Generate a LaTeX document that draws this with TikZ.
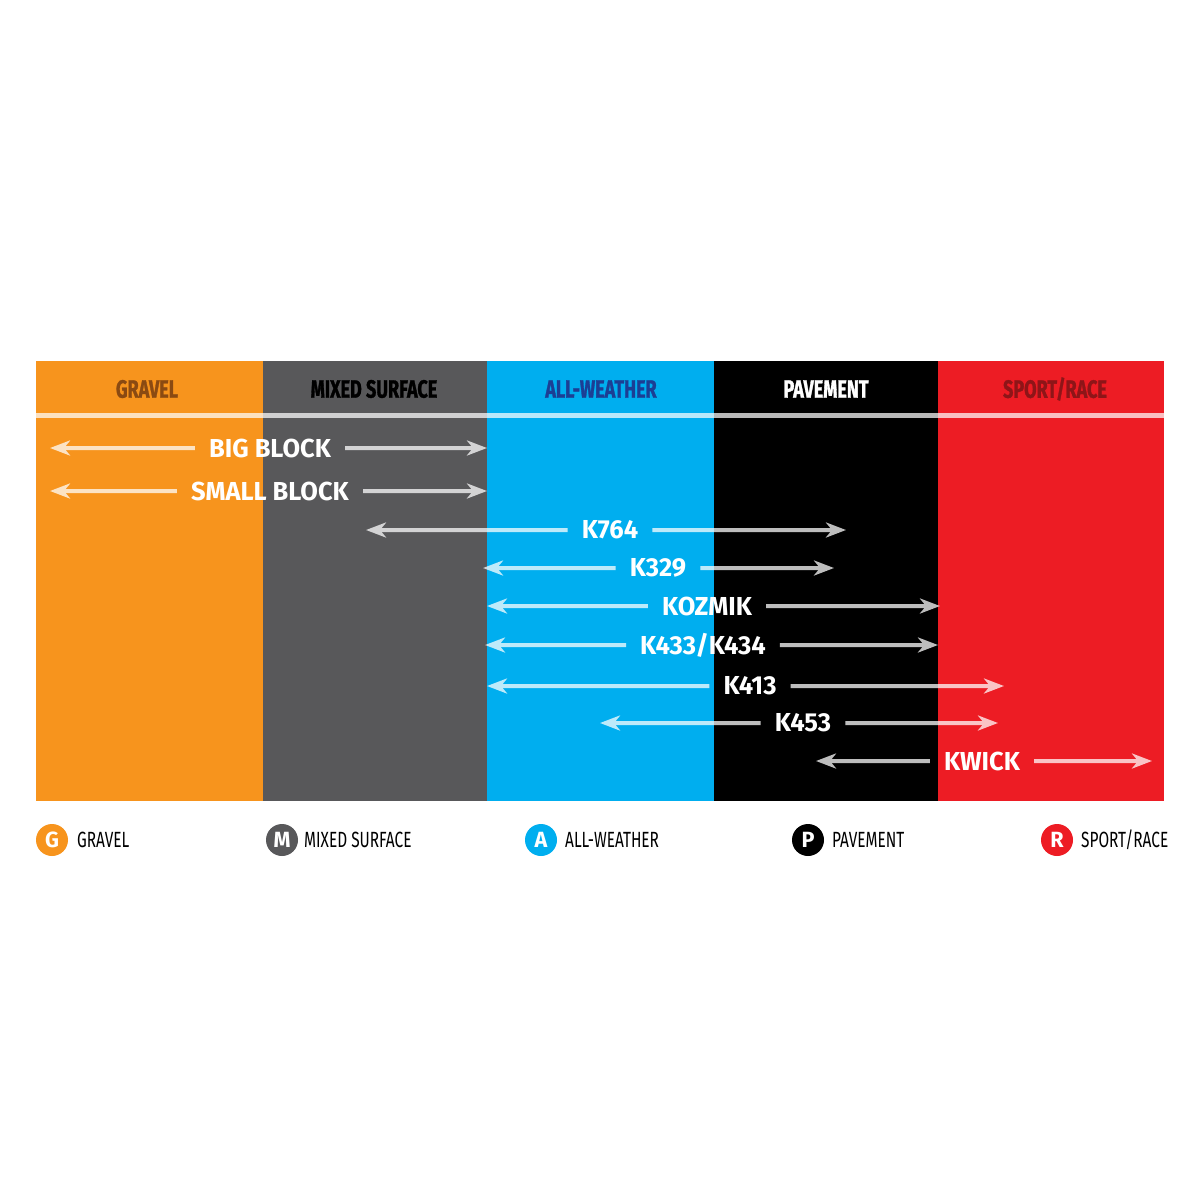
\documentclass[tikz,border=0pt]{standalone}
\usepackage{fontspec}
\setmainfont{Fira Sans}
\newfontfamily\labfont{Fira Sans}[FakeStretch=0.98]
\newfontfamily\condfont{Fira Sans}[FakeStretch=0.72, BoldFeatures={FakeBold=1.2}]
\newfontfamily\legfont{Fira Sans}[FakeStretch=0.70]
\usetikzlibrary{arrows.meta}
\definecolor{cgravel}{HTML}{F7941D}
\definecolor{cmixed}{HTML}{58585A}
\definecolor{call}{HTML}{00AEEF}
\definecolor{cpave}{HTML}{000000}
\definecolor{csport}{HTML}{ED1C24}
\definecolor{hgravel}{HTML}{8A4A12}
\definecolor{hall}{HTML}{1C3E94}
\definecolor{hsport}{HTML}{8E1518}
\begin{document}
\begin{tikzpicture}[x=1pt,y=-1pt,
  hdr/.style={inner sep=0pt, font=\condfont\bfseries\fontsize{25}{28}\selectfont},
  lab/.style={text=white, inner xsep=14pt, inner ysep=0pt, font=\labfont\bfseries\fontsize{26}{30}\selectfont},
  arr/.style={draw=white, line width=4pt, -{Stealth[length=20pt,width=15pt,inset=6pt]}},
  leg/.style={circle, minimum size=32pt, inner sep=0pt, text=white, font=\labfont\bfseries\fontsize{22}{24}\selectfont},
  legtext/.style={anchor=west, inner sep=0pt, text=black, font=\legfont\fontsize{22}{24}\selectfont}]
\useasboundingbox (0,0) rectangle (1200,1200);
\fill[white] (0,0) rectangle (1200,1200);
% columns
\fill[cgravel] (36,361) rectangle (263,801);
\fill[cmixed] (263,361) rectangle (487,801);
\fill[call] (487,361) rectangle (714,801);
\fill[cpave] (714,361) rectangle (938,801);
\fill[csport] (938,361) rectangle (1164,801);
% separator
\draw[white, opacity=0.72, line width=5pt] (36,415) -- (1164,415);
% headers
\node[hdr, text=hgravel] (hG) at (147,389) {GRAVEL};
\node[hdr, text=black] (hM) at (374,389) {MIXED SURFACE};
\node[hdr, text=hall] (hA) at (601,389) {ALL-WEATHER};
\node[hdr, text=white] (hP) at (826,389) {PAVEMENT};
\node[hdr, text=hsport] (hS) at (1055,389) {SPORT/RACE};
% labels
\node[lab] (t1) at (270,448) {BIG BLOCK};
\node[lab] (t2) at (270,491) {SMALL BLOCK};
\node[lab] (t3) at (610,530) {K764};
\node[lab] (t4) at (658,568) {K329};
\node[lab] (t5) at (707,606) {KOZMIK};
\node[lab] (t6) at (703,645) {K433/K434};
\node[lab] (t7) at (750,686) {K413};
\node[lab] (t8) at (803,723) {K453};
\node[lab] (t9) at (982,761) {KWICK};
% end points
\coordinate (l1) at (50,448);  \coordinate (r1) at (487,448);
\coordinate (l2) at (50,491);  \coordinate (r2) at (487,491);
\coordinate (l3) at (366,530); \coordinate (r3) at (846,530);
\coordinate (l4) at (483,568); \coordinate (r4) at (834,568);
\coordinate (l5) at (487,606); \coordinate (r5) at (940,606);
\coordinate (l6) at (485,645); \coordinate (r6) at (938,645);
\coordinate (l7) at (487,686); \coordinate (r7) at (1004,686);
\coordinate (l8) at (600,723); \coordinate (r8) at (998,723);
\coordinate (l9) at (816,761); \coordinate (r9) at (1152,761);
\begin{scope}[transparency group, opacity=0.74]
\foreach \i in {1,...,9} {
  \draw[arr] (t\i.west) -- (l\i);
  \draw[arr] (t\i.east) -- (r\i);
}
\end{scope}
% legend
\node[leg, fill=cgravel] (gG) at (52,840) {G};
\node[legtext] (lG) at (77,840) {GRAVEL};
\node[leg, fill=cmixed] (gM) at (282,840) {M};
\node[legtext] (lM) at (304,840) {MIXED SURFACE};
\node[leg, fill=call] (gA) at (541,840) {A};
\node[legtext] (lA) at (565,840) {ALL-WEATHER};
\node[leg, fill=cpave] (gP) at (808,840) {P};
\node[legtext] (lP) at (832,840) {PAVEMENT};
\node[leg, fill=csport] (gR) at (1057,840) {R};
\node[legtext] (lR) at (1081,840) {SPORT/RACE};
\end{tikzpicture}
\end{document}
